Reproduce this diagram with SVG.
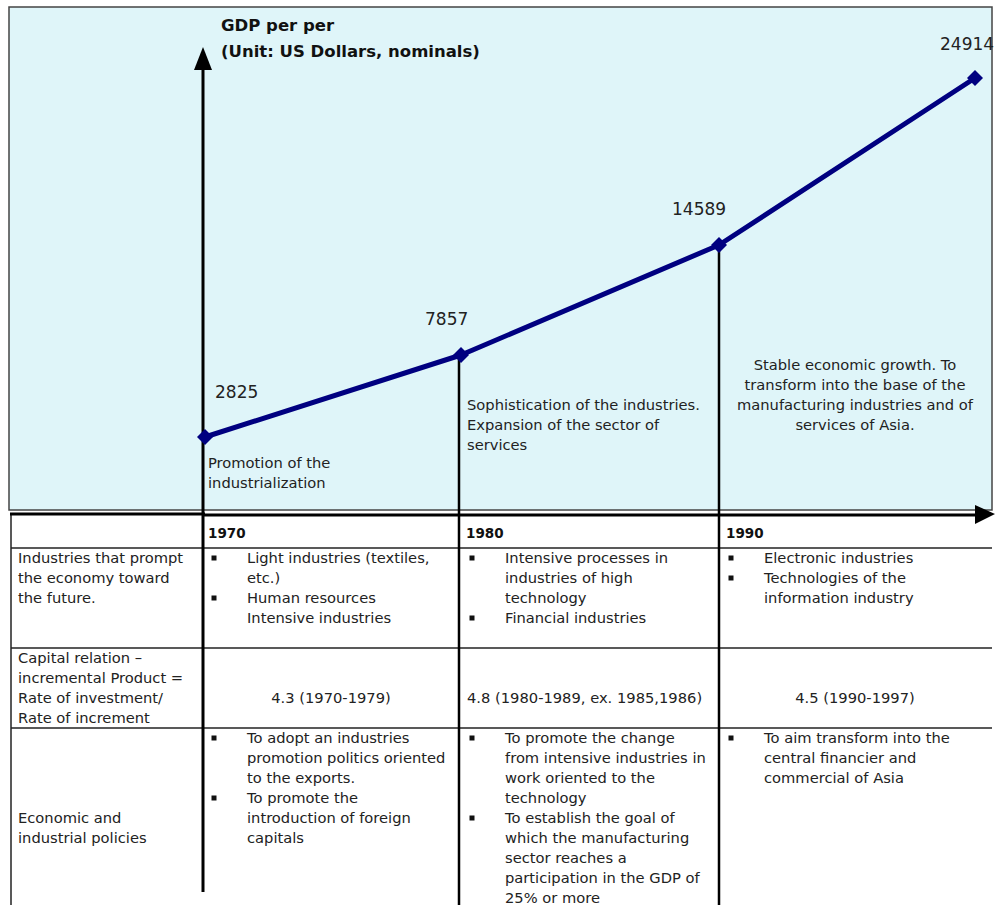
<svg xmlns="http://www.w3.org/2000/svg" width="998" height="905" viewBox="0 0 998 905">
<style>
text{font-family:"DejaVu Sans",Verdana,sans-serif;font-size:14.7px;fill:#222}
.b{font-weight:bold;fill:#111}
.h{font-size:13.5px}
.big{font-size:16.5px}
.num{font-size:17px}
.c{text-anchor:middle}
.grid{stroke:#222;stroke-width:1.5;fill:none}
.axis{stroke:#000;stroke-width:3;fill:none}
.data{stroke:#000080;stroke-width:5;fill:none;stroke-linejoin:round}
.bul{fill:#111}
</style>
<defs>
<rect id="dot" x="-2.5" y="-2.5" width="5" height="5"/>
</defs>
<rect width="998" height="905" fill="#fff"/>
<g id="panel">
<rect x="9" y="7" width="983" height="503" fill="#dff5f9" stroke="#444" stroke-width="1.5"/>
</g>
<g id="table">
<line class="grid" x1="11" y1="514" x2="11" y2="905"/>
<line class="grid" x1="11" y1="548" x2="992" y2="548"/>
<line class="grid" x1="11" y1="648" x2="992" y2="648"/>
<line class="grid" x1="11" y1="728" x2="992" y2="728"/>
<line stroke="#000" stroke-width="3" x1="10" y1="514" x2="205" y2="514"/>
</g>
<g id="connectors">
<line class="axis" x1="203" y1="892" x2="203" y2="68"/>
<path d="M194,70 L203,47 L212,70 Z" fill="#000"/>
<line class="axis" x1="203" y1="515" x2="977" y2="515"/>
<path d="M975,505 L995,514 L975,524 Z" fill="#000"/>
<line x1="459" y1="355" x2="459" y2="905" stroke="#000" stroke-width="2.5"/>
<line x1="719" y1="245" x2="719" y2="905" stroke="#000" stroke-width="2.5"/>
<polyline class="data" points="205,437 461,355 719,245 975,78"/>
<g fill="#000080">
<path d="M205,429 L213,437 L205,445 L197,437 Z"/>
<path d="M461,347 L469,355 L461,363 L453,355 Z"/>
<path d="M719,237 L727,245 L719,253 L711,245 Z"/>
<path d="M975,70 L983,78 L975,86 L967,78 Z"/>
</g>
</g>
<g id="title">
<text class="b big" x="221" y="31">GDP per per</text>
<text class="b big" x="221" y="57">(Unit: US Dollars, nominals)</text>
</g>
<g id="values">
<text class="num" x="215" y="398">2825</text>
<text class="num" x="425" y="325">7857</text>
<text class="num" x="672" y="215">14589</text>
<text class="num" x="940" y="50">24914</text>
</g>
<g id="notes">
<text x="208" y="468">Promotion of the</text>
<text x="208" y="488">industrialization</text>
<text x="467" y="410">Sophistication of the industries.</text>
<text x="467" y="430">Expansion of the sector of</text>
<text x="467" y="450">services</text>
<text class="c" x="855" y="370">Stable economic growth. To</text>
<text class="c" x="855" y="390">transform into the base of the</text>
<text class="c" x="855" y="410">manufacturing industries and of</text>
<text class="c" x="855" y="430">services of Asia.</text>
</g>
<g id="header">
<text class="b h" x="208" y="538">1970</text>
<text class="b h" x="466" y="538">1980</text>
<text class="b h" x="726" y="538">1990</text>
</g>
<g id="row1">
<text x="18" y="563">Industries that prompt</text>
<text x="18" y="583">the economy toward</text>
<text x="18" y="603">the future.</text>
<use href="#dot" class="bul" x="214" y="558"/>
<text x="247" y="563">Light industries (textiles,</text>
<text x="247" y="583">etc.)</text>
<use href="#dot" class="bul" x="214" y="598"/>
<text x="247" y="603">Human resources</text>
<text x="247" y="623">Intensive industries</text>
<use href="#dot" class="bul" x="472" y="558"/>
<text x="505" y="563">Intensive processes in</text>
<text x="505" y="583">industries of high</text>
<text x="505" y="603">technology</text>
<use href="#dot" class="bul" x="472" y="618"/>
<text x="505" y="623">Financial industries</text>
<use href="#dot" class="bul" x="731" y="558"/>
<text x="764" y="563">Electronic industries</text>
<use href="#dot" class="bul" x="731" y="578"/>
<text x="764" y="583">Technologies of the</text>
<text x="764" y="603">information industry</text>
</g>
<g id="row2">
<text x="18" y="663">Capital relation –</text>
<text x="18" y="683">incremental Product =</text>
<text x="18" y="703">Rate of investment/</text>
<text x="18" y="723">Rate of increment</text>
<text class="c" x="331" y="703">4.3 (1970-1979)</text>
<text x="467" y="703">4.8 (1980-1989, ex. 1985,1986)</text>
<text class="c" x="855" y="703">4.5 (1990-1997)</text>
</g>
<g id="row3">
<text x="18" y="823">Economic and</text>
<text x="18" y="843">industrial policies</text>
<use href="#dot" class="bul" x="214" y="738"/>
<text x="247" y="743">To adopt an industries</text>
<text x="247" y="763">promotion politics oriented</text>
<text x="247" y="783">to the exports.</text>
<use href="#dot" class="bul" x="214" y="798"/>
<text x="247" y="803">To promote the</text>
<text x="247" y="823">introduction of foreign</text>
<text x="247" y="843">capitals</text>
<use href="#dot" class="bul" x="472" y="738"/>
<text x="505" y="743">To promote the change</text>
<text x="505" y="763">from intensive industries in</text>
<text x="505" y="783">work oriented to the</text>
<text x="505" y="803">technology</text>
<use href="#dot" class="bul" x="472" y="818"/>
<text x="505" y="823">To establish the goal of</text>
<text x="505" y="843">which the manufacturing</text>
<text x="505" y="863">sector reaches a</text>
<text x="505" y="883">participation in the GDP of</text>
<text x="505" y="903">25% or more</text>
<use href="#dot" class="bul" x="731" y="738"/>
<text x="764" y="743">To aim  transform into the</text>
<text x="764" y="763">central financier and</text>
<text x="764" y="783">commercial of Asia</text>
</g>
</svg>
